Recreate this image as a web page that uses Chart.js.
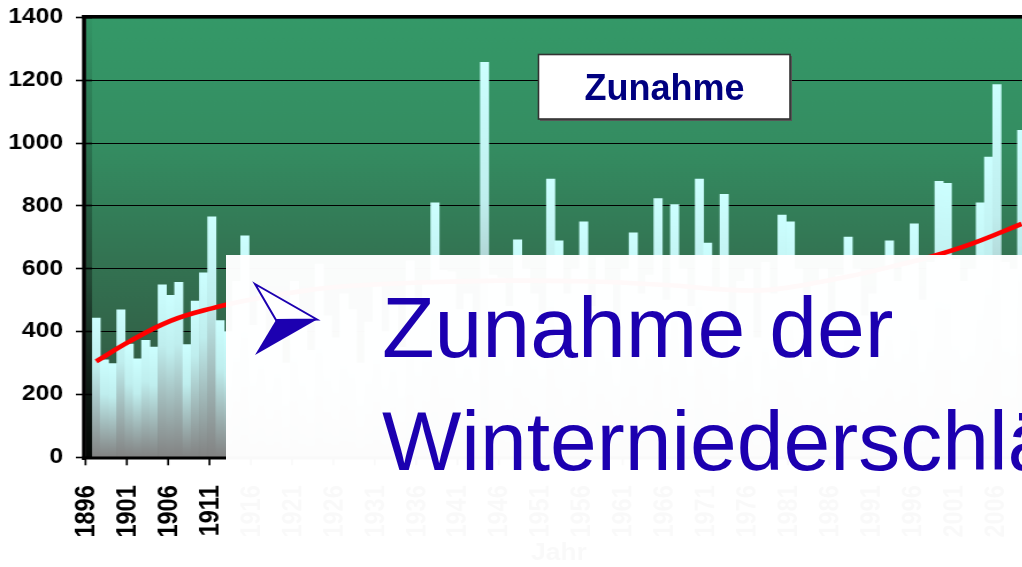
<!DOCTYPE html>
<html>
<head>
<meta charset="utf-8">
<script src="https://cdn.jsdelivr.net/npm/chart.js@4"></script>
<style>
  html,body{margin:0;padding:0;background:#fff;}
  body{width:1022px;height:567px;overflow:hidden;position:relative;}
  #wrap{position:absolute;left:0;top:0;width:892px;height:567px;transform:scaleX(1.15);transform-origin:0 0;}
  #ov{position:absolute;left:0;top:0;}
</style>
</head>
<body>
<div id="wrap"><canvas id="c" width="892" height="567"></canvas></div>
<svg id="ov" width="1022" height="567" xmlns="http://www.w3.org/2000/svg">
  <rect x="540" y="56" width="252" height="65" fill="#555"/>
  <rect x="538.5" y="54.5" width="251.5" height="64.5" fill="#ffffff" stroke="#333" stroke-width="1.6"/>
  <text x="664.5" y="100" text-anchor="middle" font-family="Liberation Sans, Arial, sans-serif" font-weight="bold" font-size="36" fill="#000080">Zunahme</text>
  <rect x="226" y="255" width="800" height="320" fill="#ffffff" fill-opacity="0.975"/>
  <polygon points="276,320 317,319.5 255,355" fill="#1c00b0"/>
  <polygon points="255,284 317,319.5 276,320" fill="#ffffff" stroke="#1c00b0" stroke-width="2" stroke-linejoin="miter"/>
  <text x="382" y="356.7" font-family="Liberation Sans, Arial, sans-serif" font-size="86" fill="#1c00b0">Zunahme der</text>
  <text x="382" y="470" font-family="Liberation Sans, Arial, sans-serif" font-size="84" fill="#1c00b0">Winterniederschläge</text>
</svg>
<script>
// ---- data ----
const firstYear = 1896, lastYear = 2008;
const years = [];
for (let y = firstYear; y <= lastYear; y++) years.push(String(y));

const winterPrecip = [
  443, 310, 298, 469, 360, 313, 372, 351, 549, 515,   // 1896-1905
  557, 359, 497, 587, 765, 435, 400, 560, 705, 420,   // 1906-1915
  520, 380, 470, 300, 560, 420, 340, 615, 450, 380,   // 1916-1925
  520, 470, 300, 430, 550, 400, 500, 350, 625, 480,   // 1926-1935
  560, 810, 595, 590, 470, 520, 440, 1257, 580, 570,  // 1936-1945
  480, 692, 600, 520, 460, 885, 689, 520, 600, 749,   // 1946-1955
  480, 635, 560, 420, 600, 714, 520, 580, 823, 500,   // 1956-1965
  804, 600, 480, 885, 682, 530, 837, 450, 560, 600,   // 1966-1975
  380, 620, 520, 771, 749, 600, 470, 560, 600, 430,   // 1976-1985
  580, 701, 600, 450, 520, 600, 689, 560, 610, 743,   // 1986-1995
  500, 620, 878, 872, 630, 560, 600, 810, 955, 1186,  // 1996-2005
  620, 600, 1040                                      // 2006-2008
];

const trendYears  = ['1896','1900','1905','1910','1915','1920','1925','1935','1945','1955','1965','1972','1977','1982','1987','1992','1997','2002','2008'];
const trendValues = [ 305,   368,   434,   474,   503,   525,   542,   556,   562,   560,   548,   534,   532,   550,   575,   605,   638,   680,   743 ];

const xTickLabels = ['1896','1901','1906','1911','1916','1921','1926','1931','1936','1941','1946','1951','1956','1961','1966','1971','1976','1981','1986','1991','1996','2001','2006'];
const yMin = 0, yMax = 1400, yStep = 200;

const trendData = years.map(y => { const i = trendYears.indexOf(y); return i >= 0 ? trendValues[i] : null; });

// ---- decoration plugin ----
const WALL_L = 74.8, AXIS_L = 71.3;
const frame = {
  id: 'frame',
  beforeDraw(chart) {
    const {ctx, chartArea: a, scales: {y}} = chart;
    const top = y.getPixelForValue(yMax), bot = y.getPixelForValue(0);
    ctx.save();
    const g = ctx.createLinearGradient(0, top, 0, bot);
    g.addColorStop(0, 'rgb(52,153,104)');
    g.addColorStop(0.3, 'rgb(52,140,97)');
    g.addColorStop(0.55, 'rgb(51,115,82)');
    g.addColorStop(0.75, 'rgb(50,98,72)');
    g.addColorStop(1, 'rgb(40,72,54)');
    ctx.fillStyle = g;
    ctx.fillRect(WALL_L, top, a.right - WALL_L + 20, bot - top);
    const w = ctx.createLinearGradient(0, top, 0, bot);
    w.addColorStop(0, 'rgba(0,0,0,0.03)');
    w.addColorStop(0.6, 'rgba(0,0,0,0.35)');
    w.addColorStop(1, 'rgba(0,0,0,0.9)');
    ctx.fillStyle = w;
    ctx.fillRect(WALL_L, top, a.left - WALL_L, bot - top);
    ctx.restore();
  },
  afterDraw(chart) {
    const {ctx, chartArea: a, scales: {x, y}} = chart;
    const top = y.getPixelForValue(yMax), bot = y.getPixelForValue(0);
    ctx.save();
    ctx.fillStyle = '#000';
    ctx.fillRect(AXIS_L, top - 2.3, 3.6, bot - top + 5);
    ctx.fillRect(AXIS_L, top - 2.3, a.right - AXIS_L + 20, 3.6);
    ctx.fillRect(AXIS_L, bot - 0.8, a.right - AXIS_L + 20, 3);
    const half = (x.getPixelForValue(1) - x.getPixelForValue(0)) / 2;
    years.forEach((lab, i) => {
      if (!xTickLabels.includes(lab)) return;
      const px = x.getPixelForValue(i) - half - (a.left - WALL_L) - 0.5;
      ctx.fillRect(px - 0.8, bot + 1.5, 1.7, 6.5);
    });
    ctx.restore();
  }
};

const barGradient = (c) => {
  const chart = c.chart;
  if (!chart.chartArea || c.type !== 'data') return '#ccffff';
  const ys = chart.scales.y;
  const t = ys.getPixelForValue(c.raw), b = ys.getPixelForValue(0);
  const g = chart.ctx.createLinearGradient(0, t, 0, b);
  g.addColorStop(0, '#ccffff');
  g.addColorStop(0.35, '#bfeeee');
  g.addColorStop(1, '#828282');
  return g;
};

const FONT = '"Liberation Sans", Arial, sans-serif';

new Chart(document.getElementById('c'), {
  data: {
    labels: years,
    datasets: [
      { type: 'line', data: trendData, borderColor: '#ff0000', borderWidth: 4.6, pointRadius: 0,
        tension: 0.4, spanGaps: true, fill: false, order: 1 },
      { type: 'bar', data: winterPrecip, backgroundColor: barGradient, borderWidth: 0,
        barPercentage: 1, categoryPercentage: 1, order: 2 }
    ]
  },
  options: {
    responsive: false, animation: false, devicePixelRatio: 1,
    layout: { padding: { top: 17.3, left: 0, right: 0, bottom: 0 } },
    plugins: { legend: { display: false }, tooltip: { enabled: false } },
    scales: {
      x: {
        grid: { display: false }, border: { display: false },
        ticks: {
          autoSkip: false, maxRotation: 90, minRotation: 90, padding: 20, labelOffset: -8,
          color: '#000', font: { family: FONT, weight: 'bold', size: 23.5 },
          callback(v) { const l = this.getLabelForValue(v); return xTickLabels.includes(l) ? l : ''; }
        },
        title: { display: true, text: 'Jahr', color: '#000', font: { family: FONT, weight: 'bold', size: 23 }, padding: 0 },
        afterFit(s) { s.height = 109.7; s.paddingLeft = 0; s.paddingRight = 0; }
      },
      y: {
        min: yMin, max: yMax,
        grid: { color: '#000', lineWidth: 1, drawTicks: true, tickLength: 14, tickColor: '#000', tickWidth: 1.6 },
        border: { display: false },
        ticks: { stepSize: yStep, padding: 11.2, color: '#000', font: { family: FONT, weight: 'bold', size: 21.4 },
                 callback: (v) => String(v) },
        afterFit(s) { s.width = 80; s.paddingTop = 0; s.paddingBottom = 0; }
      }
    }
  },
  plugins: [frame]
});
</script>
</body>
</html>
